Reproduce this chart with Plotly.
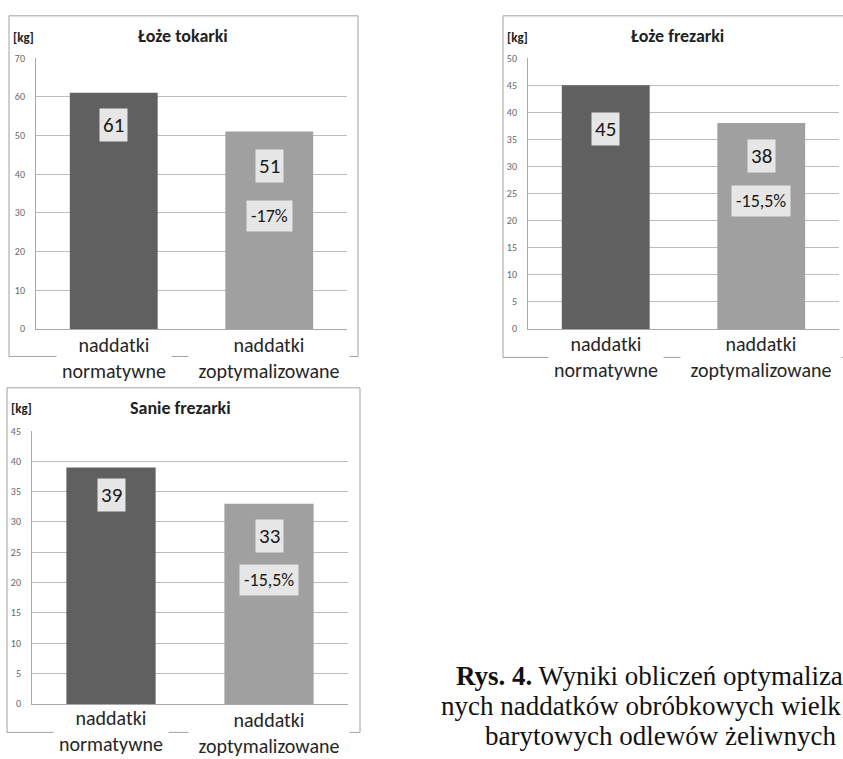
import plotly.graph_objects as go

# Mass of machining allowances for three large cast-iron castings [kg]
categories = ["naddatki normatywne", "naddatki zoptymalizowane"]
cat_labels = ["naddatki<br>normatywne", "naddatki<br>zoptymalizowane"]

titles = ["Łoże tokarki", "Łoże frezarki", "Sanie frezarki"]
values_tokarka = [61, 51]
values_frezarka = [45, 38]
values_sanie = [39, 33]
reductions = ["-17%", "-15,5%", "-15,5%"]
y_max = [70, 50, 45]
y_step = [10, 5, 5]

W, H = 843, 759
FONT = "Carlito, Lato, sans-serif"
BAR_COLORS = ["#606060", "#a0a0a0"]


def px(x):
    return x / W


def py(y):
    return 1 - y / H


# panel geometry in pixels: plot area (left, right, top, bottom), frame box,
# title centre, unit label position, offsets of the value / percent labels
panels = [
    dict(values=values_tokarka, area=(36, 347, 52, 328), frame=(9, 358, 9, 356),
         title=(183, 30), unit=(11, 31), val_off=[32, 34], pct_off=84,
         cat_y=[358, 358]),
    dict(values=values_frezarka, area=(528, 839, 52, 328), frame=(503, 851, 9, 357),
         title=(677, 30), unit=(505, 31), val_off=[44, 33], pct_off=78,
         cat_y=[357, 357]),
    dict(values=values_sanie, area=(32, 348, 432, 710), frame=(7, 360, 388, 739),
         title=(180, 409), unit=(9, 409), val_off=[28, 32], pct_off=76,
         cat_y=[738, 740]),
]

fig = go.Figure()
annotations = []
shapes = []

for i, p in enumerate(panels):
    n = "" if i == 0 else str(i + 1)
    xa, ya = "x" + n, "y" + n
    l, r, t, b = p["area"]

    fig.add_trace(go.Bar(
        x=categories, y=p["values"], xaxis=xa, yaxis=ya,
        marker=dict(color=BAR_COLORS, line=dict(width=0)),
        width=0.565, showlegend=False, hoverinfo="skip",
    ))

    fig.layout["xaxis" + n] = dict(
        domain=[px(l), px(r)], anchor=ya, type="category",
        range=[-0.5, 1.5], showticklabels=False, showgrid=False,
        showline=True, linecolor="#a8a8a8", linewidth=1, zeroline=False,
        fixedrange=True,
    )
    fig.layout["yaxis" + n] = dict(
        domain=[py(b), py(t)], anchor=xa, range=[0, y_max[i]],
        dtick=y_step[i], tick0=0, showgrid=True, gridcolor="#bdbdbd",
        gridwidth=1, showline=True, linecolor="#a8a8a8", linewidth=1,
        zeroline=False, ticks="", ticklabelstandoff=8,
        tickfont=dict(family=FONT, size=10, color="#666666"),
        fixedrange=True,
    )

    # outer chart frame
    fx0, fx1, fy0, fy1 = p["frame"]
    shapes.append(dict(type="rect", xref="paper", yref="paper",
                       x0=px(fx0), x1=px(fx1), y0=py(fy1), y1=py(fy0),
                       line=dict(color="#a0a0a0", width=1), layer="below"))

    # chart title and unit
    annotations.append(dict(text="<b>" + titles[i] + "</b>", xref="paper", yref="paper",
                            x=px(p["title"][0]), y=py(p["title"][1]),
                            xanchor="center", yanchor="middle", showarrow=False,
                            font=dict(family=FONT, size=18, color="#222222")))
    annotations.append(dict(text="<b>[kg]</b>", xref="paper", yref="paper",
                            x=px(p["unit"][0]), y=py(p["unit"][1]),
                            xanchor="left", yanchor="middle", showarrow=False,
                            font=dict(family=FONT, size=13, color="#222222")))

    # value labels inside the bars
    for j, v in enumerate(p["values"]):
        annotations.append(dict(text=str(v), xref=xa, yref=ya, x=categories[j], y=v,
                                yshift=-p["val_off"][j], xanchor="center",
                                yanchor="middle", showarrow=False,
                                bgcolor="#e6e6e6", borderpad=3,
                                font=dict(family=FONT, size=21, color="#1a1a1a")))
    annotations.append(dict(text=reductions[i], xref=xa, yref=ya, x=categories[1],
                            y=p["values"][1], yshift=-p["pct_off"],
                            xanchor="center", yanchor="middle", showarrow=False,
                            bgcolor="#e6e6e6", borderpad=4,
                            font=dict(family=FONT, size=18, color="#1a1a1a")))

    # category labels (white background breaks the frame line)
    for j, lab in enumerate(cat_labels):
        annotations.append(dict(text=lab, xref=xa, yref="paper", x=categories[j],
                                y=py(p["cat_y"][j]), xanchor="center",
                                yanchor="middle", showarrow=False, borderpad=0,
                                bgcolor="white", width=114 if j == 0 else 160,
                                font=dict(family=FONT, size=20, color="#262626")))

# figure caption (runs up to the right edge of the page)
caption = [
    ("<b>Rys. 4.</b> Wyniki obliczeń optymaliza", 455, 682),
    ("nych naddatków obróbkowych wielk", 440, 712.5),
    ("barytowych odlewów żeliwnych", 484, 743),
]
for txt, cx, cy in caption:
    annotations.append(dict(text=txt, xref="paper", yref="paper", x=px(cx), y=py(cy),
                            xanchor="left", yanchor="middle", showarrow=False,
                            height=30, borderpad=0,
                            font=dict(family="Liberation Serif, Times New Roman, serif",
                                      size=27, color="#111111")))

fig.update_layout(
    width=W, height=H, margin=dict(l=0, r=0, t=0, b=0),
    paper_bgcolor="white", plot_bgcolor="white",
    annotations=annotations, shapes=shapes, showlegend=False,
)

fig.write_html("out.html")
